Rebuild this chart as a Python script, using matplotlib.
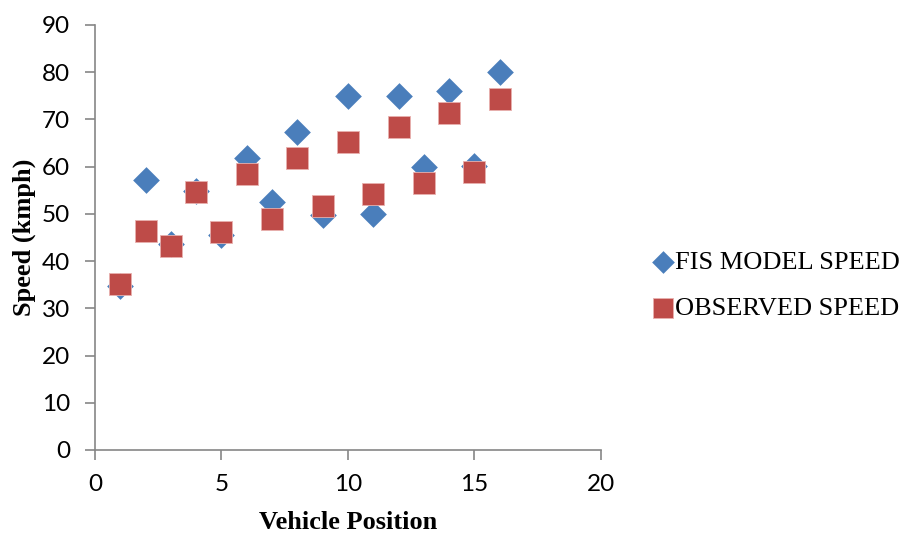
import matplotlib.pyplot as plt

positions = list(range(1, 17))
fis_speed = [34.8, 57.2, 43.7, 54.8, 45.5, 61.8, 52.6, 67.4, 49.8, 75.0, 50.0, 75.0, 60.0, 76.0, 60.2, 80.0]
observed_speed = [35.2, 46.3, 43.3, 54.7, 46.1, 58.4, 49.0, 61.8, 51.7, 65.2, 54.2, 68.4, 56.6, 71.4, 58.9, 74.4]

blue = "#4a7ebb"
red = "#be4b48"
axis_grey = "#868686"

fig = plt.figure(figsize=(9.08, 5.38), dpi=100)
ax = fig.add_axes([0.1046, 0.1636, 0.5573, 0.79])

ax.scatter(positions, fis_speed, marker="D", s=185, c=blue, linewidths=0, label="FIS MODEL SPEED", zorder=3)
ax.scatter(positions, observed_speed, marker="s", s=270, c=red, edgecolors="#e8b0ae", linewidths=0.6,
           label="OBSERVED SPEED", zorder=4)

ax.set_xlim(0, 20)
ax.set_ylim(0, 90)
ax.set_xticks(range(0, 21, 5))
ax.set_yticks(range(0, 91, 10))

for side in ["top", "right"]:
    ax.spines[side].set_visible(False)
for side in ["left", "bottom"]:
    ax.spines[side].set_color(axis_grey)
    ax.spines[side].set_linewidth(1.2)

ax.tick_params(axis="both", direction="out", length=7, width=1.2, color=axis_grey, labelsize=17.5)
ax.tick_params(axis="x", pad=10)
ax.tick_params(axis="y", pad=11)
for lbl in ax.get_xticklabels() + ax.get_yticklabels():
    lbl.set_family("Lato")

ax.set_xlabel("Vehicle Position", family="Liberation Serif", fontweight="bold", fontsize=19, labelpad=12)
ax.set_ylabel("Speed (kmph)", family="Liberation Serif", fontweight="bold", fontsize=19, labelpad=4)

fig.legend(loc="center left", bbox_to_anchor=(0.69, 0.47), frameon=False,
           prop={"family": "Liberation Serif", "size": 19}, handletextpad=-0.55,
           labelspacing=0.85, markerscale=0.85, borderaxespad=0)

fig.savefig("out.png", dpi=100)
